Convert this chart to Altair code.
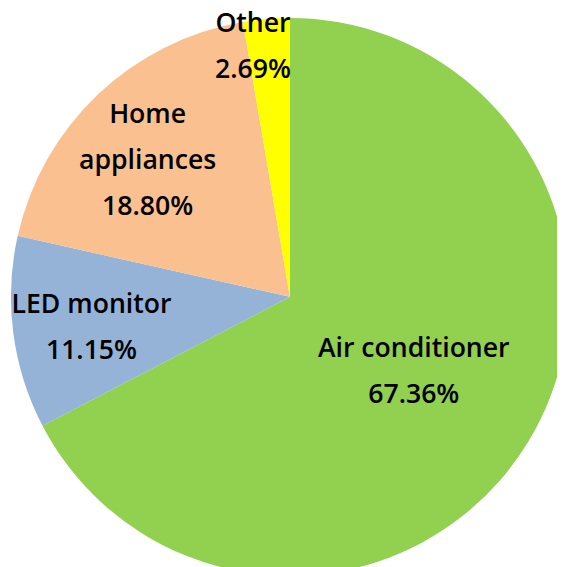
import altair as alt
import pandas as pd
import math

categories = ["Air conditioner", "LED monitor", "Home appliances", "Other"]
labels = ["Air conditioner", "LED monitor", "Home\nappliances", "Other"]
shares = [67.36, 11.15, 18.80, 2.69]
colors = ["#92D050", "#95B3D7", "#FAC090", "#FFFF00"]

df = pd.DataFrame({
    "category": categories,
    "label": labels,
    "share": shares,
    "idx": list(range(len(categories))),
})
df["text"] = df["label"] + "\n" + df["share"].map(lambda v: f"{v:.2f}%")

CX, CY, R = 286, 289, 283
LINE_H = 46.6
# label placement tweaks: (radius from centre, dx, extra dy)
label_style = {
    "Air conditioner": (147, 0, 0),
    "LED monitor": (203, 0, 5),
    "Home appliances": (198, -8, 6),
    "Other": (254, -16, 0),
}

theta_scale = alt.Scale(domain=[0, 100], range=[0, 2 * math.pi])

pie = alt.Chart(df).mark_arc(stroke=None).encode(
    theta=alt.Theta("share:Q", stack=True),
    order=alt.Order("idx:Q", sort="ascending"),
    color=alt.Color("category:N",
                    scale=alt.Scale(domain=categories, range=colors),
                    legend=None),
    x=alt.value(CX), y=alt.value(CY), radius=alt.value(R),
)

text_base = alt.Chart(df).transform_window(
    cum="sum(share)", sort=[alt.SortField("idx", order="ascending")]
).transform_calculate(
    mid="datum.cum - datum.share / 2"
)

layers = [pie]
for cat, lab in zip(categories, labels):
    rr, dx, ddy = label_style[cat]
    n_lines = lab.count("\n") + 2
    layers.append(
        text_base.transform_filter(alt.datum.category == cat)
        .mark_text(radius=rr, dx=dx, dy=-(n_lines - 1) * LINE_H / 2 + ddy,
                   lineBreak="\n", lineHeight=LINE_H,
                   font="Open Sans", fontSize=27, fontWeight=600,
                   color="black", align="center", baseline="middle")
        .encode(theta=alt.Theta("mid:Q", scale=theta_scale, stack=None),
                text="text:N", x=alt.value(CX), y=alt.value(CY))
    )

chart = alt.layer(*layers).properties(
    width=557, height=559, padding=0,
    autosize=alt.AutoSizeParams(type="none"),
).configure_view(stroke=None)

chart.save("out.html", embed_options={"renderer": "svg", "actions": False})
